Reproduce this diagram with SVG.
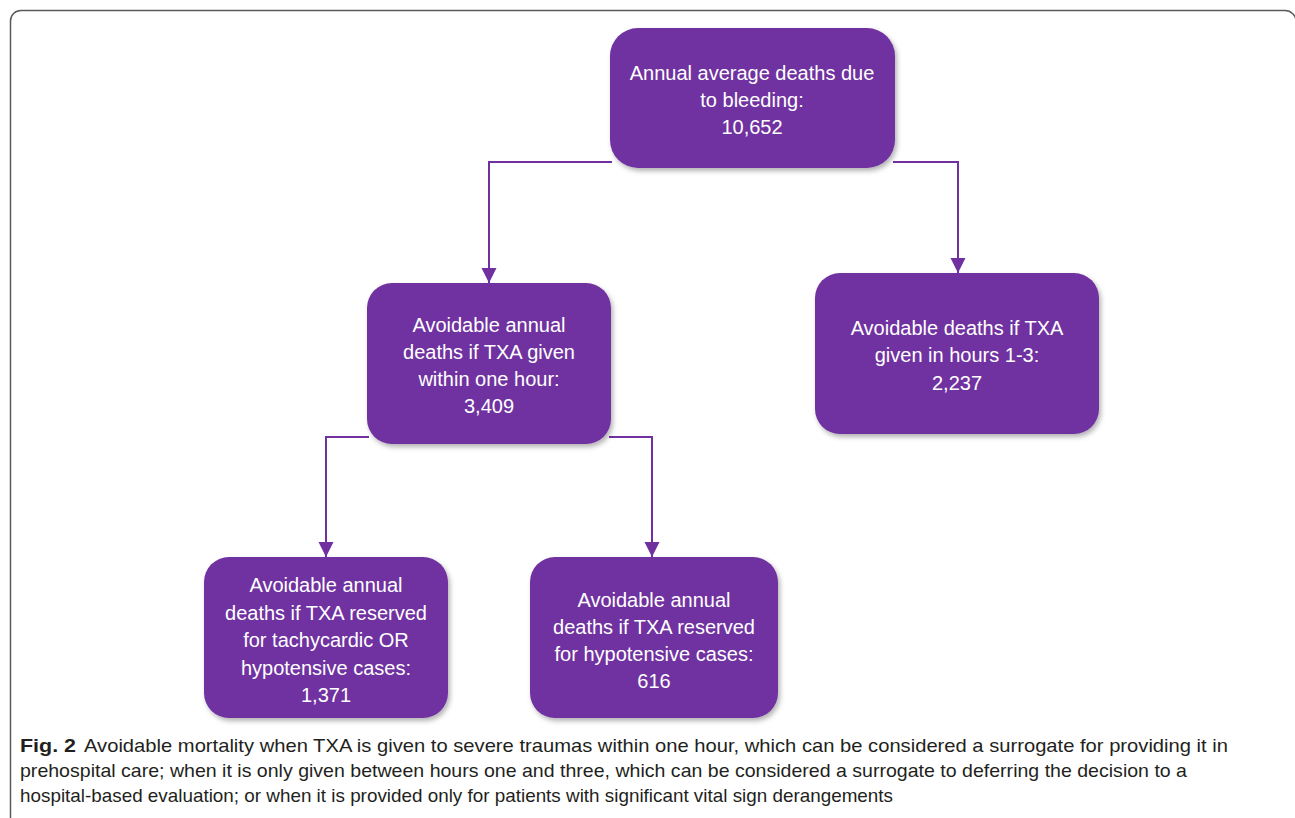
<svg xmlns="http://www.w3.org/2000/svg" width="1295" height="818" viewBox="0 0 1295 818">
<style>
.box{fill:#7030A0;filter:url(#sh);}
.lbl{font-family:"Liberation Sans",Arial,sans-serif;font-size:20px;fill:#ffffff;text-anchor:middle;}
.edge{fill:none;stroke:#7030A0;stroke-width:2;marker-end:url(#arr);}
.cap{font-family:"Liberation Sans",Arial,sans-serif;font-size:19px;fill:#231f20;}
</style>
<defs>
<filter id="sh" x="-10%" y="-10%" width="125%" height="130%">
<feDropShadow dx="2" dy="3" stdDeviation="2.5" flood-color="#000" flood-opacity="0.3"/>
</filter>
<marker id="arr" markerUnits="userSpaceOnUse" markerWidth="16" markerHeight="16" refX="15" refY="8" orient="auto" viewBox="0 0 16 16">
<path d="M0,0.5 L15,8 L0,15.5 z" fill="#7030A0"/>
</marker>
</defs>
<rect width="1295" height="818" fill="#ffffff"/>
<path d="M10.5,818 V21 A10.5,10.5 0 0 1 21,10.5 H1285 A11,11 0 0 1 1296,21.5 V818" fill="none" stroke="#5a5a5a" stroke-width="1.5"/>
<g id="connectors">
<path class="edge" d="M612,162 H489 V283"/>
<path class="edge" d="M893,162 H958 V273"/>
<path class="edge" d="M369,437 H326 V557"/>
<path class="edge" d="M609,437 H652 V557"/>
</g>
<g id="n1">
<rect class="box" x="610" y="28" width="285" height="140" rx="28"/>
<text class="lbl" x="752" y="80">Annual average deaths due</text>
<text class="lbl" x="752" y="107">to bleeding:</text>
<text class="lbl" x="752" y="134">10,652</text>
</g>
<g id="n2">
<rect class="box" x="367" y="283" width="244" height="161" rx="25"/>
<text class="lbl" x="489" y="332">Avoidable annual</text>
<text class="lbl" x="489" y="359">deaths if TXA given</text>
<text class="lbl" x="489" y="386">within one hour:</text>
<text class="lbl" x="489" y="413">3,409</text>
</g>
<g id="n3">
<rect class="box" x="815" y="273" width="284" height="161" rx="25"/>
<text class="lbl" x="957" y="335">Avoidable deaths if TXA</text>
<text class="lbl" x="957" y="362">given in hours 1-3:</text>
<text class="lbl" x="957" y="390">2,237</text>
</g>
<g id="n4">
<rect class="box" x="204" y="557" width="244" height="161" rx="25"/>
<text class="lbl" x="326" y="592">Avoidable annual</text>
<text class="lbl" x="326" y="620">deaths if TXA reserved</text>
<text class="lbl" x="326" y="647">for tachycardic OR</text>
<text class="lbl" x="326" y="675">hypotensive cases:</text>
<text class="lbl" x="326" y="702">1,371</text>
</g>
<g id="n5">
<rect class="box" x="530" y="557" width="248" height="161" rx="25"/>
<text class="lbl" x="654" y="607">Avoidable annual</text>
<text class="lbl" x="654" y="634">deaths if TXA reserved</text>
<text class="lbl" x="654" y="661">for hypotensive cases:</text>
<text class="lbl" x="654" y="688">616</text>
</g>
<g id="caption">
<text class="cap" x="20" y="752" font-weight="bold" textLength="56" lengthAdjust="spacingAndGlyphs">Fig. 2</text>
<text class="cap" x="84" y="752" textLength="1144" lengthAdjust="spacingAndGlyphs">Avoidable mortality when TXA is given to severe traumas within one hour, which can be considered a surrogate for providing it in</text>
<text class="cap" x="20" y="777" textLength="1167" lengthAdjust="spacingAndGlyphs">prehospital care; when it is only given between hours one and three, which can be considered a surrogate to deferring the decision to a</text>
<text class="cap" x="20" y="802" textLength="873" lengthAdjust="spacingAndGlyphs">hospital-based evaluation; or when it is provided only for patients with significant vital sign derangements</text>
</g>
</svg>
